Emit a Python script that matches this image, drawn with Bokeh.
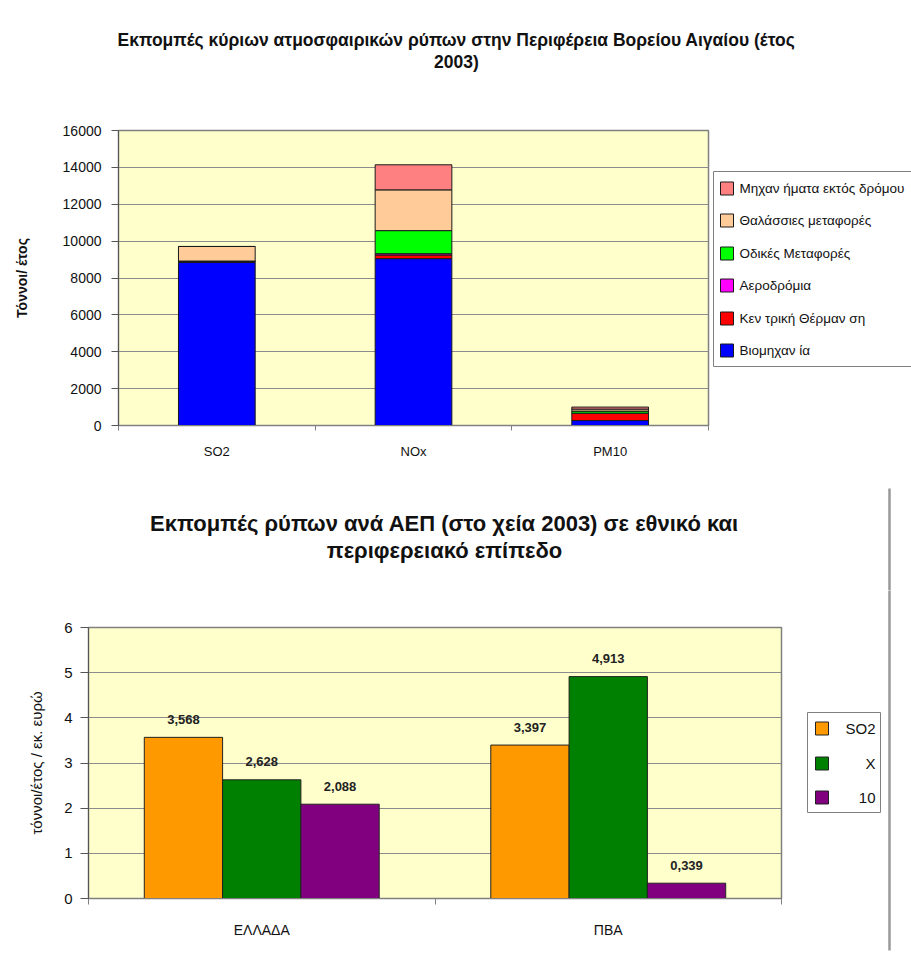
from bokeh.plotting import figure
from bokeh.models import Range1d, FixedTicker, ColumnDataSource
from bokeh.layouts import column, row
from bokeh.core.properties import value
from bokeh.embed import file_html
from bokeh.resources import INLINE

FONT = "Liberation Sans"

# ---------------- data: chart 1 ----------------
pollutants = ["SO2", "NOx", "PM10"]
sources = ["Βιομηχαν ία", "Κεν τρική Θέρμαν ση", "Αεροδρόμια",
           "Οδικές Μεταφορές", "Θαλάσσιες μεταφορές", "Μηχαν ήματα εκτός δρόμου"]
industry = [8840, 9050, 270]
central_heating = [60, 200, 400]
airports = [0, 70, 0]
road = [20, 1250, 110]
maritime = [790, 2210, 110]
offroad = [0, 1360, 110]
source_colors = ["#0000FF", "#FF0000", "#FF00FF", "#00FF00", "#FFCC99", "#FF8080"]
title1_lines = ["Εκπομπές κύριων ατμοσφαιρικών ρύπων στην Περιφέρεια Βορείου Αιγαίου (έτος", "2003)"]
ylabel1 = "Τόννοι/ έτος"
yticks1 = list(range(0, 16001, 2000))

# ---------------- data: chart 2 ----------------
regions = ["ΕΛΛΑΔΑ", "ΠΒΑ"]
so2_gdp = [3.568, 3.397]
nox_gdp = [2.628, 4.913]
pm10_gdp = [2.088, 0.339]
series2_labels = ["SO2", "X", "10"]
series2_colors = ["#FF9900", "#008000", "#800080"]
title2_lines = ["Εκπομπές ρύπων ανά ΑΕΠ (στο χεία 2003) σε εθνικό και", "περιφερειακό επίπεδο"]
ylabel2 = "τόννοι/έτος / εκ. ευρώ"
yticks2 = [0, 1, 2, 3, 4, 5, 6]


def blank(width, height, x0, x1, y0, y1):
    """A figure whose data coordinates are page pixels (y grows downward)."""
    f = figure(width=width, height=height, output_backend="svg", toolbar_location=None,
               x_range=Range1d(x0, x1), y_range=Range1d(y1, y0), min_border=0)
    f.axis.visible = False
    f.grid.visible = False
    f.outline_line_color = None
    return f


# ================= title 1 =================
t1 = blank(911, 100, 0, 911, 0, 100)
t1.text(x=[456, 456], y=[39, 61], text=title1_lines, text_align="center", text_baseline="middle",
        text_font=value(FONT), text_font_size="17.5px", text_font_style="bold", text_color="#111111")

# ================= chart 1 =================
p1 = figure(width=711, height=370, output_backend="svg", toolbar_location=None,
            x_range=Range1d(0, 3), y_range=Range1d(0, 16000),
            min_border_left=118, min_border_right=3, min_border_top=30, min_border_bottom=45)
p1.background_fill_color = "#FFFFCC"
p1.outline_line_color = "#808080"
p1.outline_line_width = 1.5
p1.xgrid.visible = False
p1.ygrid.grid_line_color = "#8C8C8C"
p1.ygrid.ticker = FixedTicker(ticks=yticks1)

xs1 = [i + 0.5 for i in range(len(pollutants))]
src1 = ColumnDataSource(dict(x=xs1, s0=industry, s1=central_heating, s2=airports,
                             s3=road, s4=maritime, s5=offroad))
rs = p1.vbar_stack(["s0", "s1", "s2", "s3", "s4", "s5"], x="x", width=0.39,
                   color=source_colors, line_color="#1A1A1A", line_width=1, source=src1)

p1.yaxis.ticker = FixedTicker(ticks=yticks1)
p1.yaxis.axis_line_color = "#555555"
p1.yaxis.major_tick_out = 7
p1.yaxis.major_tick_in = 0
p1.yaxis.major_tick_line_color = "#555555"
p1.yaxis.minor_tick_line_color = None
p1.yaxis.major_label_standoff = 10
p1.yaxis.major_label_text_font = FONT
p1.yaxis.major_label_text_font_size = "14px"
p1.yaxis.major_label_text_color = "#111111"
p1.yaxis.axis_label = ylabel1
p1.yaxis.axis_label_text_font = FONT
p1.yaxis.axis_label_text_font_size = "14px"
p1.yaxis.axis_label_text_font_style = "bold"
p1.yaxis.axis_label_text_color = "#111111"
p1.yaxis.axis_label_standoff = 30

p1.xaxis.ticker = FixedTicker(ticks=xs1, minor_ticks=[0, 1, 2, 3])
p1.xaxis.major_label_overrides = {x: lab for x, lab in zip(xs1, pollutants)}
p1.xaxis.axis_line_color = "#808080"
p1.xaxis.major_tick_line_color = None
p1.xaxis.major_tick_out = 5
p1.xaxis.minor_tick_out = 5
p1.xaxis.minor_tick_in = 0
p1.xaxis.minor_tick_line_color = "#808080"
p1.xaxis.major_label_standoff = 13
p1.xaxis.major_label_text_font = FONT
p1.xaxis.major_label_text_font_size = "13px"
p1.xaxis.major_label_text_color = "#111111"

# ================= legend 1 (side panel, page coordinates) =================
leg1 = blank(200, 370, 711, 911, 100, 470)
leg1.quad(left=[713], right=[1000], top=[171], bottom=[366],
          fill_color="white", line_color="#808080", line_width=1)
ly1 = [350, 318, 285, 253, 220, 188]          # rows, listed bottom (first series) to top
leg1.quad(left=720, right=733, top=[y - 6.5 for y in ly1], bottom=[y + 6.5 for y in ly1],
          fill_color=source_colors, line_color="#1A1A1A", line_width=1)
leg1.text(x=739, y=ly1, text=sources, text_align="left", text_baseline="middle",
          text_font=value(FONT), text_font_size="13.5px", text_color="#111111")

# ================= title 2 (full width, page coordinates) =================
t2 = blank(911, 120, 0, 911, 470, 590)
t2.text(x=[444, 444], y=[523, 550], text=title2_lines, text_align="center", text_baseline="middle",
        text_font=value(FONT), text_font_size="22px", text_font_style="bold", text_color="#111111")
t2.segment(x0=[889], y0=[488], x1=[889], y1=[600], line_color="#999999", line_width=2.5)

# ================= chart 2 =================
p2 = figure(width=795, height=365, output_backend="svg", toolbar_location=None,
            x_range=Range1d(0, 2), y_range=Range1d(0, 6),
            min_border_left=88, min_border_right=14, min_border_top=37, min_border_bottom=57)
p2.background_fill_color = "#FFFFCC"
p2.outline_line_color = "#808080"
p2.outline_line_width = 1.5
p2.xgrid.visible = False
p2.ygrid.grid_line_color = "#8C8C8C"
p2.ygrid.ticker = FixedTicker(ticks=yticks2)

centers = [i + 0.5 for i in range(len(regions))]
bw = 0.226
offsets = [-bw, 0, bw]
for vals, col, off in zip([so2_gdp, nox_gdp, pm10_gdp], series2_colors, offsets):
    xs = [c + off for c in centers]
    p2.vbar(x=xs, top=vals, width=bw, fill_color=col, line_color="#222222", line_width=1)
    p2.text(x=xs, y=vals, text=[f"{v:.3f}".replace(".", ",") for v in vals],
            text_align="center", text_baseline="middle", y_offset=-18,
            text_font=value(FONT), text_font_size="13px", text_font_style="bold",
            text_color="#222222")

p2.yaxis.ticker = FixedTicker(ticks=yticks2)
p2.yaxis.axis_line_color = "#555555"
p2.yaxis.major_tick_out = 8
p2.yaxis.major_tick_in = 0
p2.yaxis.major_tick_line_color = "#555555"
p2.yaxis.minor_tick_line_color = None
p2.yaxis.major_label_standoff = 8
p2.yaxis.major_label_text_font = FONT
p2.yaxis.major_label_text_font_size = "15px"
p2.yaxis.major_label_text_color = "#111111"
p2.yaxis.axis_label = ylabel2
p2.yaxis.axis_label_text_font = FONT
p2.yaxis.axis_label_text_font_size = "15px"
p2.yaxis.axis_label_text_font_style = "normal"
p2.yaxis.axis_label_text_color = "#111111"
p2.yaxis.axis_label_standoff = 16

p2.xaxis.ticker = FixedTicker(ticks=centers, minor_ticks=[0, 1, 2])
p2.xaxis.major_label_overrides = {x: lab for x, lab in zip(centers, regions)}
p2.xaxis.axis_line_color = "#808080"
p2.xaxis.major_tick_line_color = None
p2.xaxis.major_tick_out = 5
p2.xaxis.minor_tick_out = 6
p2.xaxis.minor_tick_in = 0
p2.xaxis.minor_tick_line_color = "#808080"
p2.xaxis.major_label_standoff = 17
p2.xaxis.major_label_text_font = FONT
p2.xaxis.major_label_text_font_size = "14px"
p2.xaxis.major_label_text_color = "#111111"

# ================= legend 2 (side panel, page coordinates) =================
leg2 = blank(116, 365, 795, 911, 590, 955)
leg2.quad(left=[807], right=[880], top=[712], bottom=[812],
          fill_color="white", line_color="#808080", line_width=1)
ly2 = [728, 763, 797]
leg2.quad(left=815, right=828, top=[y - 6.5 for y in ly2], bottom=[y + 6.5 for y in ly2],
          fill_color=series2_colors, line_color="#222222", line_width=1)
leg2.text(x=875, y=ly2, text=series2_labels, text_align="right", text_baseline="middle",
          text_font=value(FONT), text_font_size="15px", text_color="#111111")
leg2.segment(x0=[889], y0=[580], x1=[889], y1=[950], line_color="#999999", line_width=2.5)

# wrapping each figure in its own column keeps Bokeh from aligning the side panels'
# frames with the neighbouring chart frames
layout = column(t1, row(column(p1), column(leg1)), t2, row(column(p2), column(leg2)))
open("out.html", "w").write(file_html(layout, INLINE))
